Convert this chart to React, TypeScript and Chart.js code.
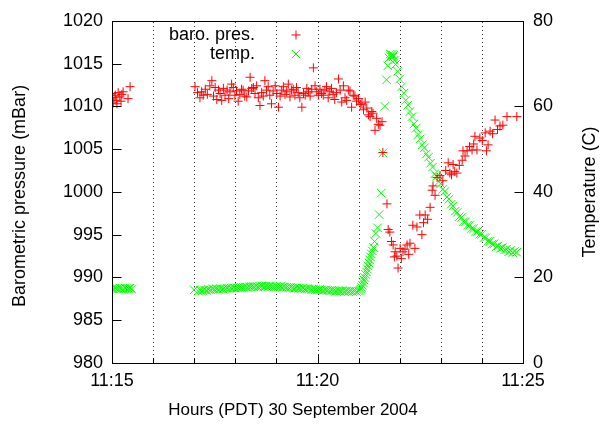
import { useEffect, useRef } from 'react';
import { Chart, registerables } from 'chart.js';

Chart.register(...registerables);

const FONT = '"Liberation Sans", Arial, sans-serif';

// Minutes after 11:00
const baroTimes = [
  15.00, 15.03, 15.05, 15.08, 15.10, 15.12, 15.15, 15.19, 15.22, 15.24, 15.27, 15.39, 15.44,
  17.02, 17.08, 17.14, 17.18, 17.22, 17.27, 17.32, 17.38, 17.43, 17.47, 17.51, 17.55, 17.59, 17.63, 17.67, 17.71, 17.75, 17.80, 17.84, 17.87, 17.91, 17.95, 17.99,
  18.03, 18.07, 18.11, 18.15, 18.19, 18.23, 18.28, 18.32, 18.36, 18.40, 18.44, 18.48, 18.52, 18.56, 18.60, 18.64, 18.68, 18.72, 18.76, 18.80, 18.84, 18.88, 18.92, 18.97,
  19.01, 19.05, 19.09, 19.13, 19.17, 19.21, 19.25, 19.29, 19.33, 19.37, 19.41, 19.45, 19.49, 19.53, 19.57, 19.62, 19.66, 19.70, 19.74, 19.78, 19.82, 19.86, 19.90, 19.94, 19.98,
  20.02, 20.06, 20.10, 20.14, 20.18, 20.22, 20.26, 20.30, 20.34, 20.38, 20.42, 20.46, 20.51, 20.55, 20.59, 20.63, 20.67, 20.71, 20.75, 20.79, 20.83, 20.87, 20.91, 20.95,
  21.00, 21.04, 21.08, 21.12, 21.16, 21.20, 21.24, 21.28, 21.32, 21.35, 21.40, 21.44, 21.48, 21.52, 21.57, 21.59, 21.69, 21.72, 21.76, 21.80, 21.84, 21.87, 21.89, 21.93, 21.96,
  22.01, 22.04, 22.08, 22.13, 22.18, 22.22, 22.25, 22.32, 22.37, 22.42, 22.49, 22.54, 22.58, 22.62, 22.68, 22.74, 22.79, 22.81, 22.86, 22.91, 22.98,
  23.05, 23.12, 23.18, 23.22, 23.26, 23.30, 23.34, 23.39, 23.45, 23.52, 23.54, 23.59, 23.64, 23.70, 23.76, 23.80, 23.83, 23.88, 23.95,
  24.01, 24.08, 24.11, 24.15, 24.20, 24.26, 24.32, 24.38, 24.44, 24.51, 24.61, 24.85,
];
const baroValues = [
  1011.5, 1010.4, 1011.0, 1011.3, 1010.7, 1010.3, 1011.6, 1011.1, 1010.6, 1011.4, 1011.7, 1010.9, 1012.3,
  1012.3, 1011.6, 1011.0, 1011.7, 1011.3, 1012.0, 1011.4, 1012.4, 1013.0, 1011.2, 1012.2, 1010.8, 1011.9, 1011.5, 1010.7, 1012.1, 1011.3, 1011.9, 1010.9, 1011.7, 1012.6, 1012.2, 1011.3,
  1011.8, 1010.6, 1011.4, 1012.0, 1011.9, 1011.2, 1011.1, 1011.8, 1013.4, 1012.1, 1012.2, 1011.5, 1012.4, 1011.0, 1010.1, 1011.6, 1011.2, 1013.0, 1011.9, 1012.3, 1011.3, 1010.3, 1011.8, 1012.4,
  1011.5, 1009.9, 1011.2, 1011.9, 1012.3, 1011.4, 1011.7, 1012.6, 1011.1, 1011.9, 1012.0, 1011.3, 1012.2, 1011.6, 1011.0, 1009.9, 1011.5, 1011.3, 1012.1, 1011.7, 1011.2, 1012.0, 1014.5, 1012.4, 1011.7,
  1011.3, 1012.0, 1011.5, 1011.3, 1011.9, 1012.3, 1011.0, 1011.7, 1012.1, 1011.4, 1010.8, 1011.6, 1013.2, 1011.9, 1010.5, 1012.4, 1011.0, 1010.7, 1011.9, 1011.8, 1009.9, 1011.3, 1011.2, 1010.6,
  1010.9, 1010.2, 1010.3, 1009.6, 1010.5, 1009.8, 1009.0, 1008.8, 1009.4, 1009.2, 1007.2, 1008.6, 1007.9, 1007.8, 1008.2, 1004.6, 998.6, 995.6, 995.3, 994.2, 993.8, 992.4, 993.0, 992.5, 991.1,
  993.4, 992.2, 993.0, 993.3, 993.8, 992.7, 994.0, 996.1, 993.4, 995.9, 997.3, 995.0, 996.4, 997.3, 996.8, 998.2, 1000.2, 1000.7, 999.6, 1001.7, 1001.9,
  1001.3, 1002.5, 1003.4, 1002.2, 1002.0, 1003.2, 1002.4, 1002.2, 1003.1, 1003.7, 1004.8, 1004.2, 1004.8, 1005.3, 1004.9, 1005.6, 1006.5, 1004.9, 1006.3,
  1006.0, 1006.9, 1004.8, 1005.5, 1007.1, 1006.8, 1008.4, 1007.3, 1007.7, 1007.8, 1008.8, 1008.8,
];

const tempTimes = [
  15.00, 15.04, 15.08, 15.12, 15.16, 15.20, 15.24, 15.28, 15.32, 15.36, 15.40, 15.44, 15.48,
  17.00, 17.10, 17.15, 17.20, 17.25, 17.30, 17.35, 17.40, 17.45, 17.50, 17.55, 17.60, 17.65, 17.70, 17.75, 17.80, 17.85, 17.90, 17.95,
  18.00, 18.05, 18.10, 18.15, 18.20, 18.25, 18.30, 18.35, 18.40, 18.45, 18.50, 18.55, 18.60, 18.65, 18.70, 18.75, 18.80, 18.85, 18.90, 18.95,
  19.00, 19.05, 19.10, 19.15, 19.20, 19.25, 19.30, 19.35, 19.40, 19.45, 19.50, 19.55, 19.60, 19.65, 19.70, 19.75, 19.80, 19.85, 19.90, 19.95,
  20.00, 20.05, 20.10, 20.15, 20.20, 20.25, 20.30, 20.35, 20.40, 20.45, 20.50, 20.55, 20.60, 20.65, 20.70, 20.75, 20.80, 20.85, 20.90, 20.95,
  21.00, 21.03, 21.05, 21.07, 21.09, 21.11, 21.13, 21.15, 21.17, 21.19, 21.21, 21.23, 21.25, 21.27, 21.29, 21.31, 21.33, 21.36, 21.39, 21.42, 21.46,
  21.50, 21.55, 21.59, 21.64, 21.68, 21.71, 21.74, 21.77, 21.79, 21.81, 21.83, 21.85, 21.87, 21.90, 21.95,
  22.00, 22.05, 22.10, 22.15, 22.20, 22.25, 22.30, 22.35, 22.40, 22.45, 22.50, 22.55, 22.60, 22.65, 22.70, 22.75, 22.80, 22.85, 22.90, 22.95,
  23.00, 23.05, 23.10, 23.15, 23.20, 23.25, 23.30, 23.35, 23.40, 23.45, 23.50, 23.55, 23.60, 23.65, 23.70, 23.75, 23.80, 23.85, 23.90, 23.95,
  24.00, 24.05, 24.10, 24.15, 24.20, 24.25, 24.30, 24.35, 24.40, 24.45, 24.50, 24.55, 24.60, 24.65, 24.70, 24.75, 24.80, 24.85,
];
const tempValues = [
  17.4, 17.3, 17.5, 17.4, 17.3, 17.5, 17.4, 17.3, 17.5, 17.4, 17.4, 17.5, 17.3,
  17.1, 16.8, 17.0, 16.9, 17.1, 17.0, 17.2, 17.1, 17.3, 17.2, 17.3, 17.2, 17.4, 17.3, 17.4, 17.5, 17.4, 17.5, 17.6,
  17.5, 17.6, 17.7, 17.6, 17.7, 17.8, 17.7, 17.8, 17.9, 17.8, 17.9, 17.8, 17.9, 18.0, 17.9, 18.0, 17.9, 18.0, 17.9, 17.8,
  17.9, 17.8, 17.9, 17.7, 17.8, 17.7, 17.6, 17.7, 17.6, 17.5, 17.6, 17.5, 17.4, 17.5, 17.3, 17.4, 17.3, 17.2, 17.3, 17.2,
  17.1, 17.2, 17.1, 17.0, 17.1, 17.0, 16.9, 17.0, 16.9, 16.8, 16.9, 16.8, 16.9, 16.7, 16.8, 16.7, 16.8, 16.7, 16.8, 16.7,
  16.8, 17.0, 17.3, 17.7, 18.2, 18.8, 19.4, 20.0, 20.7, 21.3, 22.0, 22.7, 23.4, 24.1, 24.8, 25.5, 26.2, 27.0, 28.4, 30.3, 31.6,
  34.7, 39.7, 49.1, 60.0, 66.2, 69.5, 71.3, 72.2, 71.6, 72.1, 71.5, 71.9, 70.8, 69.8, 68.2,
  66.4, 64.6, 63.1, 61.4, 60.3, 58.8, 57.6, 55.9, 54.9, 53.4, 52.4, 51.0, 50.3, 48.9, 48.1, 46.7, 45.8, 44.2, 43.6, 42.4,
  41.9, 40.6, 40.1, 38.8, 38.3, 37.1, 36.7, 35.5, 35.2, 34.2, 34.0, 33.0, 33.0, 32.2, 32.2, 31.4, 31.4, 30.7, 30.8, 30.1,
  30.1, 29.3, 29.3, 28.5, 28.5, 27.8, 27.9, 27.2, 27.4, 26.8, 27.0, 26.4, 26.6, 26.0, 26.3, 25.8, 26.1, 25.9,
];

const seriesNames = ['baro. pres.', 'temp.'];
const xTitle = 'Hours (PDT) 30 September 2004';
const yTitle = 'Barometric pressure (mBar)';
const y2Title = 'Temperature (C)';
const gridMinutes = [16, 17, 18, 19, 20, 21, 22, 23, 24];
const xTickMinutes = [15, 16, 17, 18, 19, 20, 21, 22, 23, 24, 25];
const baroTicks = [980, 985, 990, 995, 1000, 1005, 1010, 1015, 1020];
const tempTicks = [0, 20, 40, 60, 80];

const toPoints = (xs: number[], ys: number[]) => xs.map((x, i) => ({ x, y: ys[i] }));

export default function App() {
  const ref = useRef<HTMLCanvasElement>(null);

  useEffect(() => {
    document.body.style.margin = '0';
    const canvas = ref.current;
    if (!canvas) return;

    const decorPlugin = {
      id: 'gnuplotDecor',
      beforeDatasetsDraw(chart: any) {
        const { ctx, chartArea: a, scales } = chart;
        ctx.save();
        ctx.strokeStyle = 'rgba(0,0,0,0.8)';
        ctx.lineWidth = 1;
        ctx.setLineDash([1, 3]);
        for (const m of gridMinutes) {
          const x = Math.round(scales.x.getPixelForValue(m)) + 0.5;
          ctx.beginPath();
          ctx.moveTo(x, a.bottom);
          ctx.lineTo(x, a.top);
          ctx.stroke();
        }
        ctx.restore();
      },
      afterDatasetsDraw(chart: any) {
        const { ctx, chartArea: a, scales } = chart;
        ctx.save();
        ctx.strokeStyle = '#000';
        ctx.lineWidth = 1;
        ctx.setLineDash([]);
        const L = Math.round(a.left) + 0.5;
        const R = Math.round(a.right) + 0.5;
        const T = Math.round(a.top) + 0.5;
        const B = Math.round(a.bottom) + 0.5;
        ctx.strokeRect(L, T, R - L, B - T);
        ctx.beginPath();
        for (const v of baroTicks) {
          const y = Math.round(scales.y.getPixelForValue(v)) + 0.5;
          ctx.moveTo(L, y);
          ctx.lineTo(L + 9, y);
        }
        for (const v of tempTicks) {
          const y = Math.round(scales.y2.getPixelForValue(v)) + 0.5;
          ctx.moveTo(R, y);
          ctx.lineTo(R - 9, y);
        }
        for (const m of xTickMinutes) {
          const x = Math.round(scales.x.getPixelForValue(m)) + 0.5;
          ctx.moveTo(x, B);
          ctx.lineTo(x, B - (m % 5 === 0 ? 9 : 5));
        }
        ctx.stroke();

        // legend
        ctx.fillStyle = '#000';
        ctx.font = `18px ${FONT}`;
        ctx.textAlign = 'right';
        ctx.textBaseline = 'middle';
        ctx.fillText(seriesNames[0], 255, 35);
        ctx.fillText(seriesNames[1], 255, 54);
        ctx.beginPath();
        ctx.strokeStyle = '#ff0000';
        ctx.moveTo(291.5, 35);
        ctx.lineTo(300.5, 35);
        ctx.moveTo(296, 30.5);
        ctx.lineTo(296, 39.5);
        ctx.stroke();
        ctx.beginPath();
        ctx.strokeStyle = '#00ff00';
        ctx.moveTo(291.8, 49.8);
        ctx.lineTo(300.2, 58.2);
        ctx.moveTo(291.8, 58.2);
        ctx.lineTo(300.2, 49.8);
        ctx.stroke();

        // axis titles
        ctx.fillStyle = '#000';
        ctx.textAlign = 'center';
        ctx.textBaseline = 'middle';
        const cy = (a.top + a.bottom) / 2;
        ctx.font = `17px ${FONT}`;
        ctx.fillText(xTitle, 293, 410);
        ctx.font = `18px ${FONT}`;
        ctx.save();
        ctx.translate(20, cy + 4);
        ctx.rotate(-Math.PI / 2);
        ctx.fillText(yTitle, 0, 0);
        ctx.restore();
        ctx.save();
        ctx.translate(590, cy);
        ctx.rotate(-Math.PI / 2);
        ctx.fillText(y2Title, 0, 0);
        ctx.restore();
        ctx.restore();
      },
    };

    const tickFont = { family: FONT, size: 18 };

    const chart = new Chart(canvas, {
      type: 'scatter',
      data: {
        datasets: [
          {
            label: seriesNames[0],
            data: toPoints(baroTimes, baroValues),
            yAxisID: 'y',
            pointStyle: 'cross',
            pointRadius: 4.5,
            borderColor: '#ff0000',
            backgroundColor: '#ff0000',
            borderWidth: 1,
            showLine: false,
          },
          {
            label: seriesNames[1],
            data: toPoints(tempTimes, tempValues),
            yAxisID: 'y2',
            pointStyle: 'crossRot',
            pointRadius: 6,
            borderColor: '#00ff00',
            backgroundColor: '#00ff00',
            borderWidth: 1,
            showLine: false,
          },
        ],
      },
      options: {
        responsive: false,
        animation: false,
        events: [],
        layout: { padding: { top: 16, left: 0, right: 0, bottom: 0 } },
        plugins: { legend: { display: false }, tooltip: { enabled: false } },
        scales: {
          x: {
            type: 'linear',
            position: 'bottom',
            min: 15,
            max: 25,
            ticks: {
              stepSize: 5,
              autoSkip: false,
              maxRotation: 0,
              padding: 7,
              color: '#000',
              font: tickFont,
              callback: (v: any) => `11:${v}`,
            },
            grid: { display: false, drawTicks: false },
            border: { display: false },
            afterFit: (s: any) => {
              s.height = 62;
            },
          },
          y: {
            type: 'linear',
            position: 'left',
            min: 980,
            max: 1020,
            ticks: { stepSize: 5, padding: 9, color: '#000', font: tickFont, callback: (v: any) => String(v) },
            grid: { display: false, drawTicks: false },
            border: { display: false },
            afterFit: (s: any) => {
              s.width = 112;
            },
          },
          y2: {
            type: 'linear',
            position: 'right',
            min: 0,
            max: 80,
            ticks: { stepSize: 20, padding: 10, color: '#000', font: tickFont, callback: (v: any) => String(v) },
            grid: { display: false, drawTicks: false },
            border: { display: false },
            afterFit: (s: any) => {
              s.width = 80;
            },
          },
        },
      },
      plugins: [decorPlugin],
    } as any);

    return () => chart.destroy();
  }, []);

  return (
    <div style={{ width: 603, height: 425 }}>
      <canvas ref={ref} width={603} height={425} style={{ display: 'block' }} />
    </div>
  );
}
